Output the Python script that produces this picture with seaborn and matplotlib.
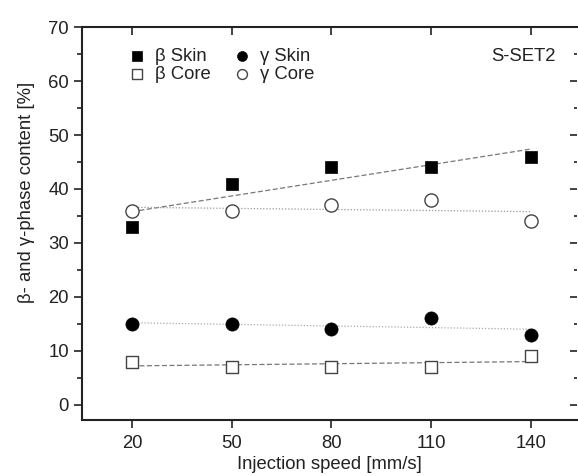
import numpy as np
import pandas as pd
import matplotlib
matplotlib.use('Agg')
import matplotlib.pyplot as plt
import seaborn as sns

# ===== 数据 =====
speed = [20, 50, 80, 110, 140]
beta_skin = [33, 41, 44, 44, 46]
gamma_skin = [15, 15, 14, 16, 13]
beta_core = [8, 7, 7, 7, 9]
gamma_core = [36, 36, 37, 38, 34]
x_ticks = [20, 50, 80, 110, 140]
y_ticks = [0, 10, 20, 30, 40, 50, 60, 70]

# ===== 风格 =====
sns.set_style('ticks')
plt.rcParams['font.family'] = ['Liberation Sans', 'DejaVu Sans']
TXT = '#222222'
FS = 13.3

df = pd.DataFrame({'speed': speed, 'beta_skin': beta_skin, 'gamma_skin': gamma_skin,
                   'beta_core': beta_core, 'gamma_core': gamma_core})

fig = plt.figure(figsize=(5.78, 4.76), dpi=100)
ax = fig.add_axes([0.142, 0.118, 0.857, 0.825])

# 趋势线（线性拟合）
fits = [('beta_skin', (0, (4, 2)), '#777777'),
        ('gamma_core', (0, (1, 1.5)), '#999999'),
        ('gamma_skin', (0, (1, 1.5)), '#aaaaaa'),
        ('beta_core', (0, (4, 2)), '#777777')]
for col, ls, c in fits:
    sns.regplot(data=df, x='speed', y=col, ci=None, scatter=False, truncate=True,
                line_kws=dict(color=c, ls=ls, lw=0.9, zorder=1), ax=ax)

# 散点
sns.scatterplot(data=df, x='speed', y='beta_skin', marker='s', s=75, color='black',
                edgecolor='black', linewidth=0.5, label='β Skin', zorder=3, ax=ax)
sns.scatterplot(data=df, x='speed', y='beta_core', marker='s', s=75, color='white',
                edgecolor='#444444', linewidth=1.0, label='β Core', zorder=3, ax=ax)
sns.scatterplot(data=df, x='speed', y='gamma_skin', marker='o', s=90, color='black',
                edgecolor='black', linewidth=0.5, label='γ Skin', zorder=3, ax=ax)
sns.scatterplot(data=df, x='speed', y='gamma_core', marker='o', s=90, color='white',
                edgecolor='#444444', linewidth=1.0, label='γ Core', zorder=3, ax=ax)

ax.set_xlim(5, 154)
ax.set_ylim(-2.8, 70)
ax.set_xticks(x_ticks)
ax.set_yticks(y_ticks)
ax.set_yticks(np.arange(5, 70, 10), minor=True)
ax.tick_params(axis='both', which='major', labelsize=FS, colors=TXT, direction='out',
               length=6, width=1.2)
ax.tick_params(axis='x', which='major', pad=5)
ax.tick_params(axis='y', which='minor', direction='out', length=3.5, width=1.2, colors=TXT)
ax.set_xlabel('Injection speed [mm/s]', fontsize=FS, color=TXT, labelpad=3)
ax.set_ylabel('β- and γ-phase content [%]', fontsize=FS, color=TXT)
ax.yaxis.set_label_coords(-0.095, 0.578)

for side in ['left', 'bottom']:
    ax.spines[side].set_linewidth(1.5)
    ax.spines[side].set_color(TXT)
ax.spines['right'].set_visible(False)
ax.spines['top'].set_visible(False)

# 上侧、右侧刻度（朝内）
top = ax.secondary_xaxis('top')
top.set_xticks(x_ticks)
top.tick_params(direction='in', length=6, width=1.2, labeltop=False, colors=TXT)
top.spines['top'].set_linewidth(1.5)
top.spines['top'].set_color(TXT)
right = ax.secondary_yaxis('right')
right.set_yticks(y_ticks)
right.set_yticks(np.arange(5, 70, 10), minor=True)
right.tick_params(which='major', direction='in', length=5, width=1.2, labelright=False, colors=TXT)
right.tick_params(which='minor', direction='in', length=2.5, width=1.2, colors=TXT)
right.spines['right'].set_visible(False)

ax.legend(loc='upper left', bbox_to_anchor=(0.067, 0.98), ncol=2, frameon=False,
          fontsize=FS, labelspacing=0.05, handletextpad=0.45, columnspacing=1.2,
          borderpad=0.2, handlelength=1.0, markerscale=0.75, labelcolor=TXT)

ax.text(0.955, 0.925, 'S-SET2', transform=ax.transAxes, ha='right', va='center',
        fontsize=FS, color=TXT)

plt.savefig('out.png', dpi=100)
